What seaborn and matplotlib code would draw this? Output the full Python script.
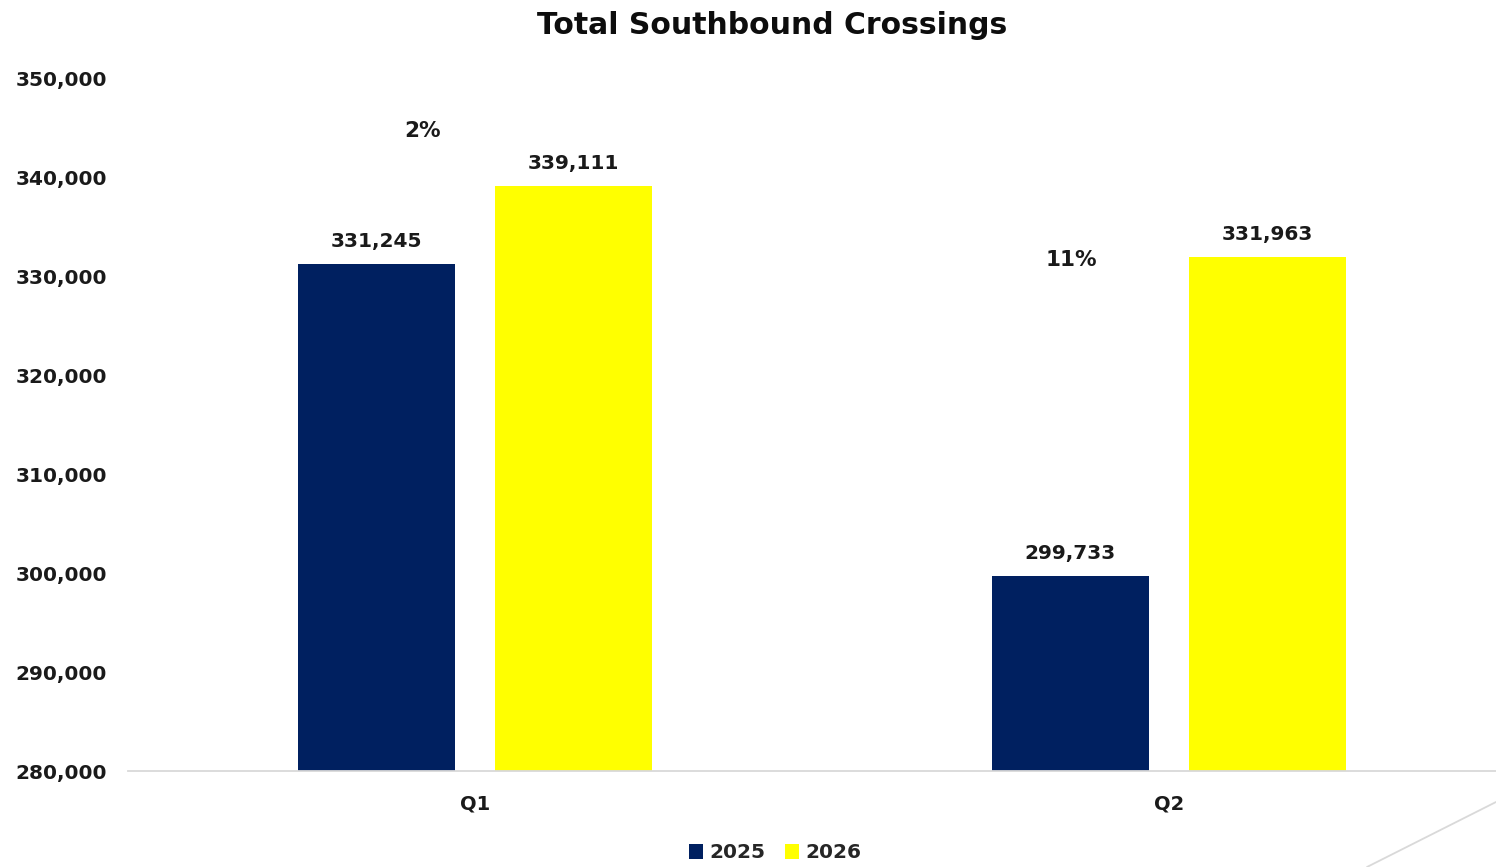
import pandas as pd
import matplotlib.pyplot as plt
from matplotlib.lines import Line2D
import seaborn as sns

quarters = ['Q1', 'Q2']
years = ['2025', '2026']
crossings_2025 = [331245, 299733]
crossings_2026 = [339111, 331963]
pct_change = ['2%', '11%']
yticks = [280000, 290000, 300000, 310000, 320000, 330000, 340000, 350000]

df = pd.DataFrame({
    'Quarter': quarters * 2,
    'Year': [years[0]] * 2 + [years[1]] * 2,
    'Crossings': crossings_2025 + crossings_2026,
})

sns.set_theme(style='white')
plt.rcParams['font.family'] = ['DejaVu Sans']
plt.rcParams['font.weight'] = 'bold'

fig = plt.figure(figsize=(14.96, 8.67), dpi=100)
ax = fig.add_axes([128 / 1496, 1 - 771 / 867, 1388 / 1496, (771 - 78) / 867])

sns.barplot(ax=ax, data=df, x='Quarter', y='Crossings', hue='Year', order=quarters,
            hue_order=years, palette=['#002060', '#FFFF00'], width=0.568, gap=0.2,
            saturation=1, linewidth=0, legend=True)

for cont in ax.containers:
    ax.bar_label(cont, labels=[f'{v:,.0f}' for v in cont.datavalues], padding=9,
                 fontsize=14.5, fontweight='bold', color='#1a1a1a')

# percent change labels
ax.text(-0.076, 344650, pct_change[0], ha='center', va='center', fontsize=15.5,
        fontweight='bold', color='#1a1a1a')
ax.text(0.859, 331600, pct_change[1], ha='center', va='center', fontsize=15.5,
        fontweight='bold', color='#1a1a1a')

ax.set_ylim(280000, 350000)
ax.set_xlim(-0.5, 1.5)
ax.set_yticks(yticks)
ax.set_yticklabels([f'{t:,}' for t in yticks])
ax.tick_params(axis='y', length=0, pad=15, labelsize=14.5, labelcolor='#1a1a1a')
ax.tick_params(axis='x', length=0, pad=17, labelsize=14, labelcolor='#1a1a1a')
for lab in ax.get_yticklabels() + ax.get_xticklabels():
    lab.set_fontweight('bold')
ax.set_xlabel('')
ax.set_ylabel('')
for s in ['top', 'right', 'left']:
    ax.spines[s].set_visible(False)
ax.spines['bottom'].set_color('#d9d9d9')
ax.spines['bottom'].set_linewidth(1.3)
ax.grid(False)

fig.suptitle('Total Southbound Crossings', x=772 / 1496, y=1 - 25 / 867, va='center',
             fontsize=21.5, fontweight='bold', color='#0d0d0d')

handles, labels = ax.get_legend_handles_labels()
ax.get_legend().remove()
fig.legend(handles, labels, loc='center', bbox_to_anchor=(775 / 1496, 1 - 853 / 867),
           ncol=2, frameon=False, prop={'size': 14.5, 'weight': 'bold'},
           handlelength=0.7, handleheight=0.7, handletextpad=0.3, columnspacing=1.0)

fig.add_artist(Line2D([1367 / 1496, 1.0], [0.0, 1 - 802 / 867], color='#d9d9d9', lw=1.3))

fig.savefig('out.png', dpi=100)
